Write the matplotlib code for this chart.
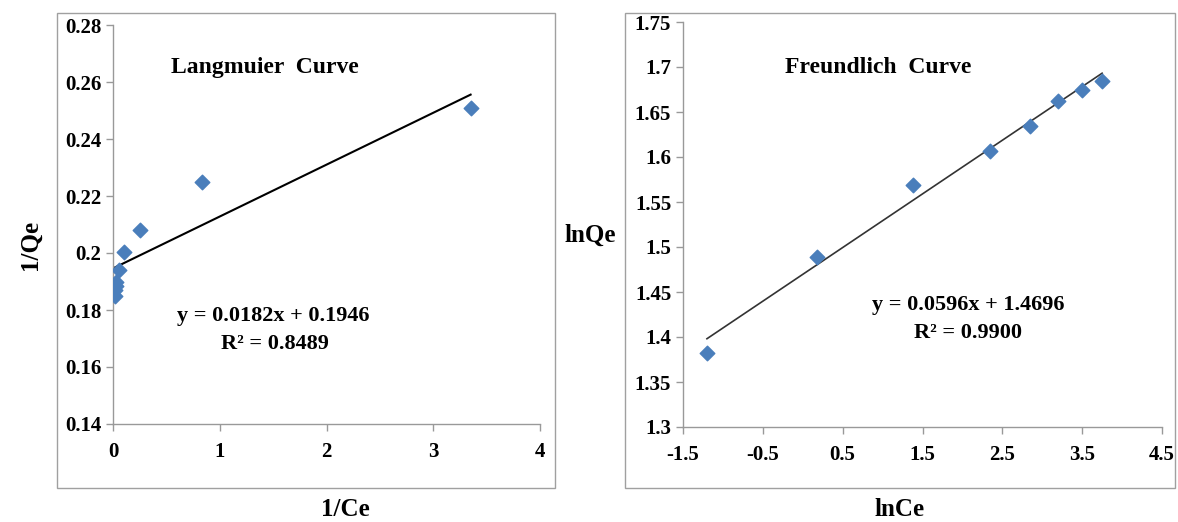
import numpy as np
import matplotlib
matplotlib.use("Agg")
import matplotlib.pyplot as plt
from matplotlib.patches import Rectangle

# Langmuir data (1/Ce vs 1/Qe)
inv_ce = [0.02, 0.02, 0.03, 0.03, 0.06, 0.10, 0.25, 0.83, 3.35]
inv_qe = [0.185, 0.187, 0.1885, 0.190, 0.194, 0.2005, 0.208, 0.225, 0.251]
lang_slope = 0.0182
lang_icpt = 0.1946

# Freundlich data (lnCe vs lnQe)
ln_ce = [-1.2, 0.18, 1.38, 2.35, 2.85, 3.2, 3.5, 3.75]
ln_qe = [1.382, 1.489, 1.569, 1.607, 1.635, 1.662, 1.674, 1.685]
fr_slope = 0.0596
fr_icpt = 1.4696

plt.rcParams['font.family'] = ['Liberation Serif', 'DejaVu Serif']
plt.rcParams['font.weight'] = 'bold'

blue = "#4a7ebb"
fig = plt.figure(figsize=(11.78, 5.22), dpi=100)

# chart frames
W, H = 1178, 522
for (x0, y0, x1, y1) in [(57, 13, 555, 488), (625, 13, 1175, 488)]:
    fig.patches.append(Rectangle((x0 / W, 1 - y1 / H), (x1 - x0) / W, (y1 - y0) / H,
                                 transform=fig.transFigure, fill=False,
                                 edgecolor="#a0a0a0", linewidth=1.0))

ax1 = fig.add_axes([113 / W, 1 - 424 / H, (540 - 113) / W, (424 - 25) / H])
ax2 = fig.add_axes([683 / W, 1 - 427 / H, (1162 - 683) / W, (427 - 22) / H])

for ax in (ax1, ax2):
    for s in ("top", "right"):
        ax.spines[s].set_visible(False)
    for s in ("left", "bottom"):
        ax.spines[s].set_color("#999999")
        ax.spines[s].set_linewidth(1.0)
    ax.tick_params(direction="out", length=5, color="#999999", labelsize=15, width=1)

# Langmuir
xl = np.array([0, max(inv_ce)])
ax1.plot(xl, lang_slope * xl + lang_icpt, color="black", linewidth=1.5)
ax1.scatter(inv_ce, inv_qe, marker="D", s=55, color=blue, zorder=3)
ax1.set_xlim(0, 4)
ax1.set_ylim(0.14, 0.28)
ax1.set_xticks([0, 1, 2, 3, 4])
ax1.set_xticklabels(["0", "1", "2", "3", "4"], fontweight="bold")
ax1.set_yticks(np.arange(0.14, 0.2801, 0.02))
ax1.set_yticklabels(["0.14", "0.16", "0.18", "0.2", "0.22", "0.24", "0.26", "0.28"], fontweight="bold")
ax1.tick_params(axis="x", pad=8)
ax1.text(1.42, 0.265, "Langmuier  Curve", ha="center", va="center", fontsize=17, fontweight="bold")
ax1.text(1.5, 0.178, "y = 0.0182x + 0.1946", ha="center", va="center", fontsize=16, fontweight="bold")
ax1.text(1.52, 0.168, "R² = 0.8489", ha="center", va="center", fontsize=16, fontweight="bold")
fig.text(30 / W, 1 - 245 / H, "1/Qe", rotation=90, ha="center", va="center", fontsize=18, fontweight="bold")
fig.text(345 / W, 1 - 510 / H, "1/Ce", ha="center", va="center", fontsize=18, fontweight="bold")

# Freundlich
xf = np.array([min(ln_ce), max(ln_ce)])
ax2.plot(xf, fr_slope * xf + fr_icpt, color="#333333", linewidth=1.2)
ax2.scatter(ln_ce, ln_qe, marker="D", s=55, color=blue, zorder=3)
ax2.set_xlim(-1.5, 4.5)
ax2.set_ylim(1.3, 1.75)
ax2.set_xticks([-1.5, -0.5, 0.5, 1.5, 2.5, 3.5, 4.5])
ax2.set_xticklabels(["-1.5", "-0.5", "0.5", "1.5", "2.5", "3.5", "4.5"], fontweight="bold")
ax2.set_yticks(np.arange(1.3, 1.7501, 0.05))
ax2.set_yticklabels(["1.3", "1.35", "1.4", "1.45", "1.5", "1.55", "1.6", "1.65", "1.7", "1.75"], fontweight="bold")
ax2.tick_params(axis="x", pad=8)
ax2.text(0.94, 1.699, "Freundlich  Curve", ha="center", va="center", fontsize=17, fontweight="bold")
ax2.text(2.07, 1.436, "y = 0.0596x + 1.4696", ha="center", va="center", fontsize=16, fontweight="bold")
ax2.text(2.07, 1.405, "R² = 0.9900", ha="center", va="center", fontsize=16, fontweight="bold")
fig.text(590 / W, 1 - 235 / H, "lnQe", ha="center", va="center", fontsize=18, fontweight="bold")
fig.text(900 / W, 1 - 510 / H, "lnCe", ha="center", va="center", fontsize=18, fontweight="bold")

fig.savefig("out.png", dpi=100)
